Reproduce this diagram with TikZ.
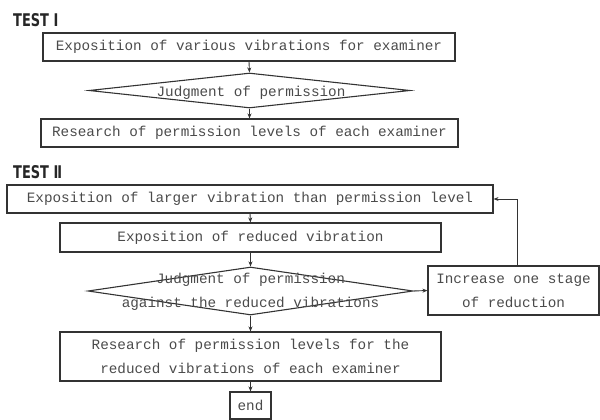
\documentclass[tikz,border=0pt]{standalone}
\usepackage{fontspec}
\usepackage{graphicx}
\setmainfont{Liberation Mono}
\newfontfamily\labfont{DejaVu Sans}
\usetikzlibrary{shapes.geometric,arrows.meta}
\definecolor{linecol}{HTML}{333333}
\definecolor{txtcol}{HTML}{4A4A4A}
\tikzset{
  box/.style={draw=linecol, line width=1.1pt, rectangle, inner sep=0pt, align=center,
              text=txtcol, font=\fontsize{14.3}{24}\selectfont},
  dia/.style={draw=linecol, line width=1.1pt, diamond, inner sep=0pt, aspect=1},
  txt/.style={inner sep=0pt, align=center, text=txtcol, font=\fontsize{14.3}{24}\selectfont},
  testlab/.style={inner sep=0pt, anchor=west, text=black!85, font=\labfont\bfseries\fontsize{17.5}{20}\selectfont},
  arr/.style={draw=linecol, line width=0.9pt, -{Stealth[length=5pt,width=4pt]}}
}
\begin{document}
\begin{tikzpicture}[x=1pt,y=-1pt]
\useasboundingbox (0,0) rectangle (600,420);
% TEST I
\node[testlab] (t1) at (13,20) {\scalebox{0.74}[1]{TEST Ⅰ}};
\node[box, minimum width=412pt, minimum height=28pt] (b1) at (249,47) {Exposition of various vibrations for examiner};
\node[dia, minimum width=321pt, minimum height=35pt] (d1) at (249.5,90.5) {};
\node[txt] (d1t) at (251,93) {Judgment of permission};
\node[box, minimum width=417pt, minimum height=28pt] (b2) at (249.5,133) {Research of permission levels of each examiner};
\draw[arr] (b1.south) -- (d1.north);
\draw[arr] (d1.south) -- (b2.north);
% TEST II
\node[testlab] (t2) at (13,172) {\scalebox{0.74}[1]{TEST Ⅱ}};
\node[box, minimum width=486pt, minimum height=28pt] (b3) at (250,199) {Exposition of larger vibration than permission level};
\node[box, minimum width=381pt, minimum height=29pt] (b4) at (250.5,237.5) {Exposition of reduced vibration};
\node[dia, minimum width=325pt, minimum height=48pt] (d2) at (250.5,291) {};
\node[txt] (d2t) at (250.5,292) {Judgment of permission\\against the reduced vibrations};
\node[box, minimum width=171pt, minimum height=49pt] (inc) at (513.5,290.5) {Increase one stage\\of reduction};
\node[box, minimum width=381pt, minimum height=49pt] (b5) at (250.5,356.5) {Research of permission levels for the\\reduced vibrations of each examiner};
\node[box, minimum width=41pt, minimum height=27pt] (e) at (250.5,405.5) {end};
\draw[arr] (b3.south) -- (b4.north);
\draw[arr] (b4.south) -- (d2.north);
\draw[arr] (d2.south) -- (b5.north);
\draw[arr] (b5.south) -- (e.north);
\draw[arr] (d2.east) -- (inc.west);
\coordinate (up) at (517,199);
\draw[arr] (inc.north -| up) -- (up) -- (b3.east);
\end{tikzpicture}
\end{document}
